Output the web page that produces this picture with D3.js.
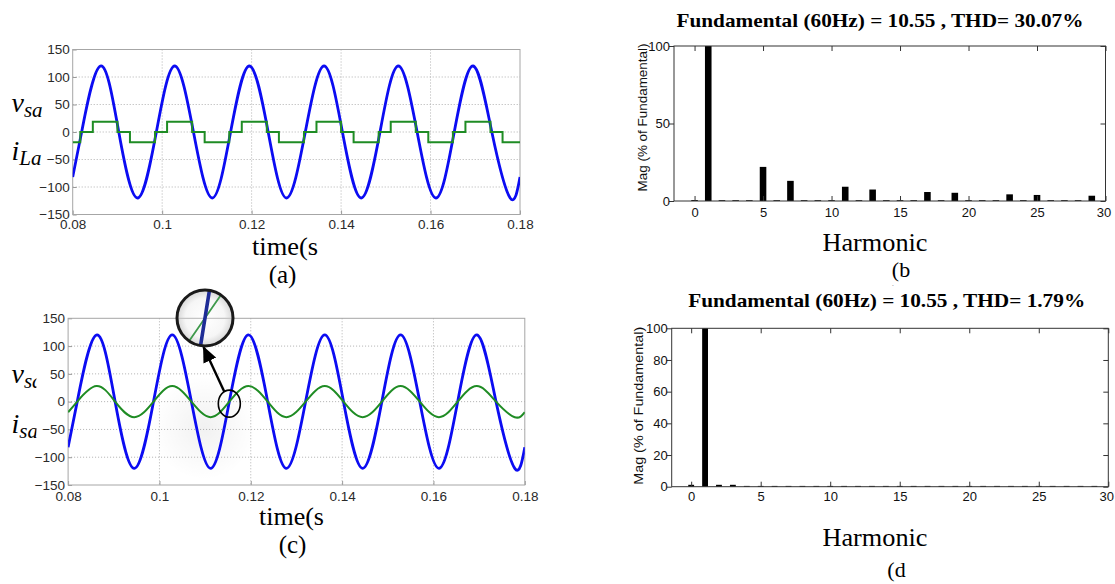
<!DOCTYPE html>
<html><head><meta charset="utf-8">
<script src="https://cdnjs.cloudflare.com/ajax/libs/d3/7.8.5/d3.min.js"></script>
<style>
body{margin:0;background:#fff;}
svg{display:block;}
</style></head>
<body>
<svg id="fig" width="1115" height="584" xmlns="http://www.w3.org/2000/svg"></svg>
<script>
// ---------------- DATA ----------------
const timeTicks = [0.08, 0.10, 0.12, 0.14, 0.16, 0.18];
const timeTickLabels = ["0.08", "0.1", "0.12", "0.14", "0.16", "0.18"];
const waveTicks = [-150, -100, -50, 0, 50, 100, 150];

const tWave = [0.0800, 0.0820, 0.0862, 0.0903, 0.0945, 0.0987, 0.1028, 0.1070, 0.1112, 0.1153,
               0.1195, 0.1237, 0.1278, 0.1320, 0.1362, 0.1403, 0.1445, 0.1487, 0.1528, 0.1570,
               0.1612, 0.1653, 0.1695, 0.1737, 0.1778, 0.1800];
const vsaA = [-82, 0, 120, 0, -120, 0, 120, 0, -120, 0,
              120, 0, -120, 0, 120, 0, -120, 0, 120, 0,
              -120, 0, 120, 0, -120, -82];
const vsaC = [-82, 0, 120, 0, -120, 0, 120, 0, -120, 0,
              120, 0, -120, 0, 120, 0, -120, 0, 120, 0,
              -120, 0, 120, 0, -120, -82];
const isaC = [-19, 0, 28, 0, -28, 0, 28, 0, -28, 0,
              28, 0, -28, 0, 28, 0, -28, 0, 28, 0,
              -28, 0, 28, 0, -28, -19];

// six-step load current (a): switching instants and levels
const tStep = [0.0800,
               0.0817, 0.0845, 0.0900, 0.0928,
               0.0984, 0.1011, 0.1067, 0.1095,
               0.1150, 0.1178, 0.1234, 0.1261,
               0.1317, 0.1345, 0.1400, 0.1428,
               0.1484, 0.1511, 0.1567, 0.1595,
               0.1650, 0.1678, 0.1734, 0.1761,
               0.1800];
const iLaA = [-18.5,
              0, 18.5, 0, -18.5,
              0, 18.5, 0, -18.5,
              0, 18.5, 0, -18.5,
              0, 18.5, 0, -18.5,
              0, 18.5, 0, -18.5,
              0, 18.5, 0, -18.5,
              -18.5];

// harmonic spectra
const harmonics = [0, 1, 2, 3, 4, 5, 6, 7, 8, 9, 10, 11, 12, 13, 14, 15, 16, 17, 18, 19,
                   20, 21, 22, 23, 24, 25, 26, 27, 28, 29];
const magB = [0.6, 100, 0.5, 0.5, 0.5, 22, 0.5, 13, 0.5, 0.5, 0.5, 9.2, 0.5, 7.4, 0.5, 0.5, 0.5, 5.8, 0.5, 5.3,
              0.5, 0.5, 0.5, 4.3, 0.5, 3.9, 0.5, 0.5, 0.5, 3.4];
const magD = [1.2, 100, 1.2, 1.2, 0.5, 0.5, 0.5, 0.5, 0.5, 0.5, 0.5, 0.5, 0.5, 0.5, 0.5, 0.5, 0.5, 0.5, 0.5, 0.5,
              0.5, 0.5, 0.5, 0.5, 0.5, 0.5, 0.5, 0.5, 0.5, 0.5];
const harmTicks = [0, 5, 10, 15, 20, 25, 30];
const magTicksB = [0, 50, 100];
const magTicksD = [0, 20, 40, 60, 80, 100];
const titleB = "Fundamental (60Hz) = 10.55 , THD= 30.07%";
const titleD = "Fundamental (60Hz) = 10.55 , THD= 1.79%";

// ---------------- DRAWING ----------------
const SANS = "'Liberation Sans', Arial, Helvetica, sans-serif";
const SERIF = "'Liberation Serif', 'Times New Roman', Times, serif";
const svg = d3.select("#fig");
const defs = svg.append("defs");

const blob = defs.append("radialGradient").attr("id", "blob");
blob.append("stop").attr("offset", "0%").attr("stop-color", "#000").attr("stop-opacity", 0.055);
blob.append("stop").attr("offset", "100%").attr("stop-color", "#000").attr("stop-opacity", 0);
const lensG = defs.append("radialGradient").attr("id", "lensfill");
lensG.append("stop").attr("offset", "0%").attr("stop-color", "#ffffff");
lensG.append("stop").attr("offset", "70%").attr("stop-color", "#f6f6f6");
lensG.append("stop").attr("offset", "100%").attr("stop-color", "#d6d6d6");
defs.append("marker").attr("id", "arrowhead").attr("markerUnits", "userSpaceOnUse")
  .attr("markerWidth", 16).attr("markerHeight", 14).attr("refX", 15).attr("refY", 7)
  .attr("orient", "auto")
  .append("path").attr("d", "M0,0 L16,7 L0,14 Z").attr("fill", "#000");

function wavePanel(cfg) {
  const {x0, x1, y0, y1, id} = cfg;
  const x = d3.scaleLinear().domain([0.08, 0.18]).range([x0, x1]);
  const y = d3.scaleLinear().domain([-150, 150]).range([y1, y0]);
  const g = svg.append("g");
  g.append("rect").attr("x", x0).attr("y", y0).attr("width", x1 - x0).attr("height", y1 - y0).attr("fill", "#fff");
  g.append("g").selectAll("line").data(timeTicks.slice(1, -1)).join("line")
    .attr("x1", d => x(d)).attr("x2", d => x(d)).attr("y1", y0).attr("y2", y1)
    .attr("stroke", "#b0b0b0").attr("stroke-dasharray", "1,2");
  g.append("g").selectAll("line").data(waveTicks.slice(1, -1)).join("line")
    .attr("y1", d => y(d)).attr("y2", d => y(d)).attr("x1", x0).attr("x2", x1)
    .attr("stroke", "#b0b0b0").attr("stroke-dasharray", "1,2");
  const ax = g.append("g").attr("transform", `translate(0,${y1})`)
    .call(d3.axisBottom(x).tickValues(timeTicks).tickFormat((d, i) => timeTickLabels[i]).tickSize(-4).tickPadding(cfg.xPad));
  const ay = g.append("g").attr("transform", `translate(${x0},0)`)
    .call(d3.axisLeft(y).tickValues(waveTicks).tickSize(-4).tickPadding(3));
  [ax, ay].forEach(a => {
    a.select(".domain").remove();
    a.selectAll("line").attr("stroke", "#9a9a9a");
    a.selectAll("text").attr("font-family", SANS).attr("font-size", 13.5).attr("fill", "#2a2a2a");
  });
  g.append("rect").attr("x", x0).attr("y", y0).attr("width", x1 - x0).attr("height", y1 - y0)
    .attr("fill", "none").attr("stroke", "#a6a6a6");
  defs.append("clipPath").attr("id", "clip" + id).append("rect")
    .attr("x", x0).attr("y", y0).attr("width", x1 - x0).attr("height", y1 - y0);
  const plot = g.append("g").attr("clip-path", `url(#clip${id})`);
  return {x, y, g, plot};
}

function waveLine(x, y, ts, curve) {
  return d3.line().x((d, i) => x(ts[i])).y(d => y(d)).curve(curve);
}

// ---- panel (a)
const A = wavePanel({x0: 72.7, x1: 520, y0: 49.5, y1: 214.5, id: "a", xPad: 5});
A.plot.append("path").attr("d", waveLine(A.x, A.y, tWave, d3.curveNatural)(vsaA))
  .attr("fill", "none").attr("stroke", "#0c0cf2").attr("stroke-width", 2.8);
A.plot.append("path").attr("d", waveLine(A.x, A.y, tStep, d3.curveStepAfter)(iLaA))
  .attr("fill", "none").attr("stroke", "#1f8c24").attr("stroke-width", 2);

// ---- panel (c)
const C = wavePanel({x0: 68.1, x1: 524.8, y0: 318.3, y1: 485, id: "c", xPad: 6.5});
const tCross = tWave[9];
const crossX = C.x(tCross), crossY = C.y(0);
C.plot.append("circle").attr("cx", crossX - 25).attr("cy", crossY + 26).attr("r", 52).attr("fill", "url(#blob)");
C.plot.append("path").attr("d", waveLine(C.x, C.y, tWave, d3.curveNatural)(vsaC))
  .attr("fill", "none").attr("stroke", "#0c0cf2").attr("stroke-width", 2.8);
C.plot.append("path").attr("d", waveLine(C.x, C.y, tWave, d3.curveNatural)(isaC))
  .attr("fill", "none").attr("stroke", "#1f8c24").attr("stroke-width", 2);

// annotations on (c)
const lensCx = 205, lensCy = 318, lensR = 28;
svg.append("ellipse").attr("cx", crossX).attr("cy", crossY + 2).attr("rx", 11).attr("ry", 13.5)
  .attr("fill", "none").attr("stroke", "#000").attr("stroke-width", 1.6);
svg.append("line").attr("x1", crossX - 5).attr("y1", crossY - 10)
  .attr("x2", lensCx - 1.5).attr("y2", lensCy + lensR + 1)
  .attr("stroke", "#000").attr("stroke-width", 2.4).attr("marker-end", "url(#arrowhead)");
defs.append("clipPath").attr("id", "lensclip").append("circle")
  .attr("cx", lensCx).attr("cy", lensCy).attr("r", lensR);
const lens = svg.append("g").attr("clip-path", "url(#lensclip)");
lens.append("circle").attr("cx", lensCx).attr("cy", lensCy).attr("r", lensR).attr("fill", "url(#lensfill)");
lens.append("line").attr("x1", lensCx - lensR).attr("x2", lensCx + lensR).attr("y1", C.y(150)).attr("y2", C.y(150))
  .attr("stroke", "#c4c4c4").attr("stroke-width", 1.2);
const xm = d3.scaleLinear().domain([tCross - 0.0006, tCross + 0.0006]).range([lensCx - lensR, lensCx + lensR]);
const ym = d3.scaleLinear().domain([-4.2, 4.2]).range([lensCy + lensR, lensCy - lensR]);
lens.append("path").attr("d", waveLine(xm, ym, tWave, d3.curveNatural)(isaC))
  .attr("fill", "none").attr("stroke", "#3f9a4c").attr("stroke-width", 1.8);
lens.append("path").attr("d", waveLine(xm, ym, tWave, d3.curveNatural)(vsaC))
  .attr("fill", "none").attr("stroke", "#1e2c96").attr("stroke-width", 3.6);
svg.append("circle").attr("cx", lensCx).attr("cy", lensCy).attr("r", lensR)
  .attr("fill", "none").attr("stroke", "#1a1a1a").attr("stroke-width", 3);

// side labels
function sideLabel(xp, yp, main, sub, clipId) {
  const t = svg.append("text").attr("x", xp).attr("y", yp).attr("font-family", SERIF)
    .attr("font-style", "italic").attr("fill", "#000");
  if (clipId) t.attr("clip-path", `url(#${clipId})`);
  t.append("tspan").attr("font-size", 28).text(main);
  t.append("tspan").attr("font-size", 21).attr("dy", 5).text(sub);
}
sideLabel(11.5, 112, "v", "sa");
sideLabel(11.5, 160, "i", "La");
defs.append("clipPath").attr("id", "labclip").append("rect").attr("x", 0).attr("y", 340).attr("width", 36.5).attr("height", 110);
sideLabel(11.5, 383, "v", "sa", "labclip");
sideLabel(11.5, 433, "i", "sa", "labclip");

// x labels and captions
function caption(xp, yp, txt, size, len) {
  const t = svg.append("text").attr("x", xp).attr("y", yp).attr("text-anchor", "middle")
    .attr("font-family", SERIF).attr("font-size", size).attr("fill", "#000").text(txt);
  if (len) t.attr("textLength", len).attr("lengthAdjust", "spacingAndGlyphs");
  return t;
}
caption(285, 255, "time(s", 26, 66);
caption(282.5, 283, "(a)", 25);
caption(291.5, 525, "time(s", 26, 65);
caption(292.5, 553, "(c)", 25);

// ---- bar panels
function barPanel(cfg) {
  const {x0, x1, y0, y1, xmin, magTicks, mags, bw, title} = cfg;
  const x = d3.scaleLinear().domain([xmin, 30]).range([x0, x1]);
  const y = d3.scaleLinear().domain([0, 100]).range([y1, y0]);
  const g = svg.append("g");
  g.append("g").selectAll("rect").data(harmonics).join("rect")
    .attr("x", d => x(d - bw / 2)).attr("width", x(bw) - x(0))
    .attr("y", (d, i) => y(mags[i])).attr("height", (d, i) => y(0) - y(mags[i]))
    .attr("fill", "#000");
  const axB = g.append("g").attr("transform", `translate(0,${y1})`)
    .call(d3.axisBottom(x).tickValues(harmTicks).tickFormat(d3.format("d")).tickSize(-5).tickPadding(cfg.xPad));
  const axL = g.append("g").attr("transform", `translate(${x0},0)`)
    .call(d3.axisLeft(y).tickValues(magTicks).tickFormat(d3.format("d")).tickSize(5).tickPadding(-1));
  const axT = g.append("g").attr("transform", `translate(0,${y0})`)
    .call(d3.axisTop(x).tickValues(harmTicks).tickFormat("").tickSize(-5));
  const axR = g.append("g").attr("transform", `translate(${x1},0)`)
    .call(d3.axisRight(y).tickValues(magTicks).tickFormat("").tickSize(-5));
  [axB, axL, axT, axR].forEach(a => {
    a.select(".domain").remove();
    a.selectAll("line").attr("stroke", "#333");
    a.selectAll("text").attr("font-family", SANS).attr("font-size", 13).attr("fill", "#111");
  });
  axB.selectAll("text").filter(d => d === 30).attr("dx", -2);
  g.append("rect").attr("x", x0).attr("y", y0).attr("width", x1 - x0).attr("height", y1 - y0)
    .attr("fill", "none").attr("stroke", "#333");
  svg.append("text").attr("x", cfg.titleX).attr("y", cfg.titleY).attr("text-anchor", "middle")
    .attr("font-family", SERIF).attr("font-weight", "bold").attr("font-size", 19)
    .attr("textLength", cfg.titleLen).attr("lengthAdjust", "spacingAndGlyphs").text(title);
  svg.append("text").attr("transform", `translate(${cfg.ylabX},${cfg.ylabY}) rotate(-90)`)
    .attr("text-anchor", "middle").attr("font-family", SANS).attr("font-size", 12.5).attr("fill", "#111")
    .attr("textLength", cfg.ylabLen).attr("lengthAdjust", "spacingAndGlyphs")
    .text("Mag (% of Fundamental)");
  caption(875, cfg.harmY, "Harmonic", 25, 105);
  caption(cfg.capX, cfg.capY, cfg.cap, 22);
  return {x, y};
}

barPanel({x0: 674, x1: 1105.5, y0: 46, y1: 201, xmin: -1.5, magTicks: magTicksB, mags: magB, bw: 0.48,
  title: titleB, titleX: 880, titleY: 26.5, titleLen: 407, xPad: 7,
  ylabX: 647, ylabY: 117.5, ylabLen: 148, harmY: 251, capX: 901, capY: 276.5, cap: "(b"});
barPanel({x0: 671.7, x1: 1108.3, y0: 328.3, y1: 486.7, xmin: -1.4, magTicks: magTicksD, mags: magD, bw: 0.42,
  title: titleD, titleX: 886.7, titleY: 307, titleLen: 397, xPad: 5.5,
  ylabX: 643, ylabY: 405.8, ylabLen: 158, harmY: 546, capX: 896.5, capY: 577, cap: "(d"});

// small scan artefact between (b) and (d)
svg.append("text").attr("x", 892).attr("y", 288.5).attr("font-family", SERIF).attr("font-size", 6).attr("fill", "#666").text("`");
</script>
</body></html>
